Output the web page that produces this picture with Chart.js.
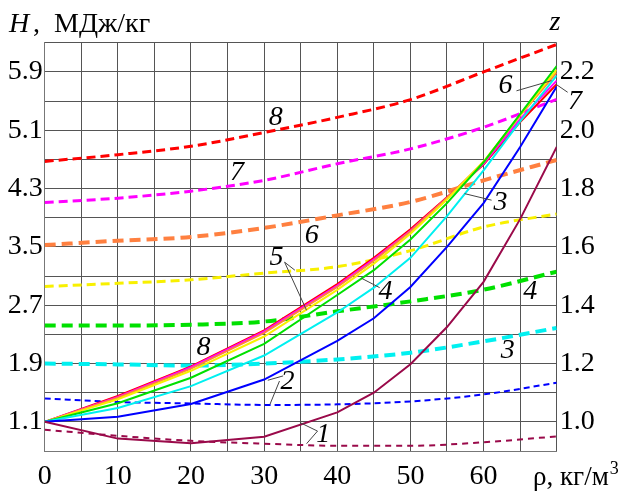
<!DOCTYPE html>
<html>
<head>
<meta charset="utf-8">
<script src="https://cdn.jsdelivr.net/npm/chart.js@4.4.1/dist/chart.umd.min.js"></script>
<style>
html,body{margin:0;padding:0;background:#fff;}
#wrap{width:625px;height:493px;position:relative;}
</style>
</head>
<body>
<div id="wrap"><canvas id="c" width="625" height="493"></canvas></div>
<script>
// ---- data ----
const rhoH = [0, 10, 20, 30, 40, 45, 50, 55, 60, 65, 70];
const H1 = [1.1, 0.87, 0.805, 0.895, 1.23, 1.50, 1.89, 2.40, 3.02, 3.88, 4.87];
const H2 = [1.1, 1.17, 1.345, 1.68, 2.21, 2.52, 2.95, 3.50, 4.10, 4.87, 5.70];
const H3 = [1.1, 1.29, 1.59, 2.01, 2.60, 2.94, 3.35, 3.92, 4.55, 5.22, 5.85];
const H4 = [1.1, 1.355, 1.705, 2.17, 2.84, 3.18, 3.60, 4.10, 4.66, 5.32, 5.98];
const H5 = [1.1, 1.41, 1.80, 2.27, 2.91, 3.27, 3.68, 4.15, 4.67, 5.31, 5.93];
const H6 = [1.1, 1.43, 1.83, 2.32, 2.95, 3.31, 3.71, 4.17, 4.66, 5.30, 5.89];
const H7 = [1.1, 1.44, 1.85, 2.34, 2.97, 3.33, 3.72, 4.17, 4.64, 5.25, 5.78];
const H8 = [1.1, 1.455, 1.86, 2.355, 2.99, 3.35, 3.74, 4.18, 4.63, 5.21, 5.73];

const rhoZ = [0, 10, 20, 30, 40, 50, 60, 70];
const z1 = [0.973, 0.952, 0.935, 0.925, 0.918, 0.918, 0.930, 0.950];
const z2 = [1.080, 1.068, 1.063, 1.058, 1.060, 1.070, 1.094, 1.134];
const z3 = [1.200, 1.197, 1.193, 1.200, 1.214, 1.237, 1.276, 1.322];
const z4 = [1.330, 1.330, 1.333, 1.344, 1.379, 1.413, 1.453, 1.515];
const z5 = [1.464, 1.475, 1.487, 1.510, 1.532, 1.587, 1.668, 1.713];
const z6 = [1.606, 1.621, 1.634, 1.665, 1.708, 1.754, 1.828, 1.898];
const z7 = [1.752, 1.767, 1.791, 1.828, 1.885, 1.936, 2.010, 2.106];
const z8 = [1.893, 1.916, 1.945, 1.992, 2.044, 2.105, 2.200, 2.294];

const xTickValues = [0, 5, 10, 15, 20, 25, 30, 35, 40, 45, 50, 55, 60, 65, 70];
const xTickLabels = ['0', '', '10', '', '20', '', '30', '', '40', '', '50', '', '60', '', ''];
const hTickValues = [0.7, 1.1, 1.5, 1.9, 2.3, 2.7, 3.1, 3.5, 3.9, 4.3, 4.7, 5.1, 5.5, 5.9, 6.3];
const hTickLabels = ['', '1.1', '', '1.9', '', '2.7', '', '3.5', '', '4.3', '', '5.1', '', '5.9', ''];
const zTickValues = [0.9, 1.0, 1.1, 1.2, 1.3, 1.4, 1.5, 1.6, 1.7, 1.8, 1.9, 2.0, 2.1, 2.2, 2.3];
const zTickLabels = ['', '1.0', '', '1.2', '', '1.4', '', '1.6', '', '1.8', '', '2.0', '', '2.2', ''];

// curve number labels (in data units: rho, H)
const curveLabels = [
  {t: '8', x: 31.6, y: 5.27}, {t: '7', x: 26.3, y: 4.52}, {t: '6', x: 36.5, y: 3.66},
  {t: '5', x: 31.7, y: 3.35}, {t: '4', x: 46.6, y: 2.88}, {t: '4', x: 66.4, y: 2.88},
  {t: '3', x: 62.3, y: 4.10}, {t: '3', x: 63.3, y: 2.08}, {t: '2', x: 33.2, y: 1.655},
  {t: '1', x: 38.1, y: 0.93}, {t: '8', x: 21.7, y: 2.12}, {t: '6', x: 63.0, y: 5.71},
  {t: '7', x: 72.5, y: 5.49}
];
const leaders = [
  [32.8, 3.29, 34.2, 3.18], [32.8, 3.29, 35.8, 2.63],
  [45.8, 2.94, 43.3, 3.07],
  [61.1, 4.14, 57.4, 4.23],
  [32.6, 1.73, 30.5, 1.67], [32.1, 1.66, 30.8, 1.34],
  [37.3, 0.973, 34.9, 1.09], [37.3, 0.973, 35.8, 0.80],
  [64.5, 5.64, 69.3, 5.78],
  [71.5, 5.62, 69.9, 5.73]
];

const colors = ['#9a0a4a', '#0000ff', '#00f0f0', '#00e000', '#f8f000', '#ff8040', '#ff00ff', '#ff0000'];
const Hs = [H1, H2, H3, H4, H5, H6, H7, H8];
const Zs = [z1, z2, z3, z4, z5, z6, z7, z8];
const zWidths = [2, 2, 4, 4, 3, 4, 3, 3];
const zDashes = [[6, 5], [6, 4], [11, 6], [11, 6], [9, 5], [11, 6], [9, 5], [9, 5]];

const datasets = [];
Hs.forEach((arr, i) => {
  datasets.push({
    label: 'H' + (i + 1), yAxisID: 'y',
    data: rhoH.map((r, k) => ({x: r, y: arr[k]})),
    borderColor: colors[i], borderWidth: 2, pointRadius: 0, tension: 0, fill: false
  });
});
Zs.forEach((arr, i) => {
  datasets.push({
    label: 'z' + (i + 1), yAxisID: 'z',
    data: rhoZ.map((r, k) => ({x: r, y: arr[k]})),
    borderColor: colors[i], borderWidth: zWidths[i], borderDash: zDashes[i],
    pointRadius: 0, cubicInterpolationMode: 'monotone', fill: false
  });
});

// pick an installed serif font by measuring
function pickSerif() {
  const cands = ['Liberation Serif', 'Tinos', 'Times New Roman', 'Times', 'Nimbus Roman', 'DejaVu Serif', 'Noto Serif', 'FreeSerif'];
  const ctx = document.createElement('canvas').getContext('2d');
  const s = 'МДж/кг 0123456789 Wmilw';
  const base = [];
  ['monospace', 'sans-serif'].forEach(f => { ctx.font = '40px ' + f; base.push(ctx.measureText(s).width); });
  for (const c of cands) {
    let ok = true;
    ['monospace', 'sans-serif'].forEach((f, i) => {
      ctx.font = '40px "' + c + '", ' + f;
      if (Math.abs(ctx.measureText(s).width - base[i]) < 0.5) ok = false;
    });
    if (ok) return '"' + c + '"';
  }
  return 'serif';
}
const SERIF = pickSerif();
const isDejaVu = SERIF.indexOf('DejaVu') >= 0;
const FS = isDejaVu ? 24 : 28;

const textPlugin = {
  id: 'texts',
  afterDraw(chart) {
    const ctx = chart.ctx;
    const xs = chart.scales.x, ys = chart.scales.y;
    ctx.save();
    ctx.strokeStyle = '#444';
    ctx.lineWidth = 1;
    leaders.forEach(l => {
      ctx.beginPath();
      ctx.moveTo(xs.getPixelForValue(l[0]), ys.getPixelForValue(l[1]));
      ctx.lineTo(xs.getPixelForValue(l[2]), ys.getPixelForValue(l[3]));
      ctx.stroke();
    });
    ctx.fillStyle = '#000';
    ctx.font = 'italic ' + FS + 'px ' + SERIF;
    ctx.textAlign = 'center';
    ctx.textBaseline = 'middle';
    curveLabels.forEach(c => {
      ctx.fillText(c.t, xs.getPixelForValue(c.x), ys.getPixelForValue(c.y));
    });
    ctx.textAlign = 'left';
    ctx.textBaseline = 'alphabetic';
    ctx.font = 'italic ' + FS + 'px ' + SERIF;
    ctx.fillText('H', 9, 32);
    ctx.font = FS + 'px ' + SERIF;
    ctx.fillText(',', 33, 32);
    ctx.fillText('МДж/кг', 54, 32);
    ctx.font = 'italic ' + FS + 'px ' + SERIF;
    ctx.textAlign = 'center';
    ctx.fillText('z', 555, 30);
    ctx.textAlign = 'left';
    ctx.font = (FS - 1) + 'px ' + SERIF;
    ctx.fillText('ρ, кг/м', 533, 485);
    const w = ctx.measureText('ρ, кг/м').width;
    ctx.font = Math.round(FS * 0.65) + 'px ' + SERIF;
    ctx.fillText('3', 533 + w + 1, 474);
    ctx.restore();
  }
};

new Chart(document.getElementById('c'), {
  type: 'line',
  data: {datasets},
  options: {
    responsive: false,
    animation: false,
    events: [],
    layout: {padding: {top: 42.7, left: 0, right: 0, bottom: 0}},
    plugins: {legend: {display: false}, tooltip: {enabled: false}},
    scales: {
      x: {
        type: 'linear', position: 'bottom', min: 0, max: 70,
        afterBuildTicks: s => { s.ticks = xTickValues.map(v => ({value: v})); },
        afterFit: s => { s.height = 42; },
        grid: {color: '#555', lineWidth: 1, drawTicks: false},
        border: {color: '#777', width: 1},
        ticks: {
          autoSkip: false, maxRotation: 0, padding: 9, color: '#000',
          font: {family: SERIF, size: FS},
          callback: (v, i) => xTickLabels[i]
        }
      },
      y: {
        type: 'linear', position: 'left', min: 0.7, max: 6.3,
        afterBuildTicks: s => { s.ticks = hTickValues.map(v => ({value: v})); },
        afterFit: s => { s.width = 44.7; },
        grid: {color: '#555', lineWidth: 1, drawTicks: false},
        border: {color: '#777', width: 1},
        ticks: {
          autoSkip: false, padding: 2, color: '#000',
          font: {family: SERIF, size: FS},
          callback: (v, i) => hTickLabels[i]
        }
      },
      z: {
        type: 'linear', position: 'right', min: 0.9, max: 2.3,
        afterBuildTicks: s => { s.ticks = zTickValues.map(v => ({value: v})); },
        afterFit: s => { s.width = 68.3; },
        grid: {drawOnChartArea: false, drawTicks: false},
        border: {display: false},
        ticks: {
          autoSkip: false, padding: 3, color: '#000',
          font: {family: SERIF, size: FS},
          callback: (v, i) => zTickLabels[i]
        }
      }
    }
  },
  plugins: [textPlugin]
});
</script>
</body>
</html>
